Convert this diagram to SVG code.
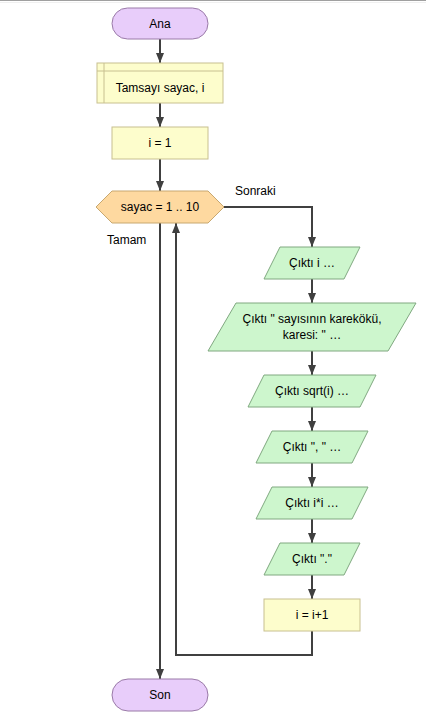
<svg xmlns="http://www.w3.org/2000/svg" width="426" height="724" viewBox="0 0 426 724">
<defs>
<marker id="ah" markerWidth="10" markerHeight="8" refX="10" refY="4" orient="auto" markerUnits="userSpaceOnUse">
<path d="M0,0 L10,4 L0,8 Z" fill="#404040"/>
</marker>
<style>
text{font-family:"Liberation Sans",Arial,sans-serif;font-size:12px;fill:#000;text-anchor:middle;dominant-baseline:central}
.lbl{text-anchor:start}
.term{fill:#e8cdfa;stroke:#9a7aa8;stroke-width:1}
.proc{fill:#fdfdcc;stroke:#c8c090;stroke-width:1}
.loop{fill:#fed9a0;stroke:#c8a870;stroke-width:1}
.io{fill:#cdf6cd;stroke:#80a880;stroke-width:1}
.ln{fill:none;stroke:#404040;stroke-width:2}
</style>
</defs>
<rect x="0" y="0" width="426" height="724" fill="#ffffff"/>
<line x1="0" y1="0.5" x2="426" y2="0.5" stroke="#a0a0a0" stroke-width="1"/>
<line x1="0" y1="2.5" x2="426" y2="2.5" stroke="#f0f0f0" stroke-width="1"/>
<g id="connectors">
<line class="ln" x1="160" y1="39" x2="160" y2="63" marker-end="url(#ah)"/>
<line class="ln" x1="160" y1="103" x2="160" y2="127" marker-end="url(#ah)"/>
<line class="ln" x1="160" y1="159" x2="160" y2="191" marker-end="url(#ah)"/>
<polyline class="ln" points="224,207 312,207 312,247" marker-end="url(#ah)"/>
<line class="ln" x1="312" y1="279" x2="312" y2="303" marker-end="url(#ah)"/>
<line class="ln" x1="312" y1="351" x2="312" y2="375" marker-end="url(#ah)"/>
<line class="ln" x1="312" y1="407" x2="312" y2="431" marker-end="url(#ah)"/>
<line class="ln" x1="312" y1="463" x2="312" y2="487" marker-end="url(#ah)"/>
<line class="ln" x1="312" y1="519" x2="312" y2="543" marker-end="url(#ah)"/>
<line class="ln" x1="312" y1="575" x2="312" y2="599" marker-end="url(#ah)"/>
<polyline class="ln" points="312,631 312,655 176,655 176,223" marker-end="url(#ah)"/>
<line class="ln" x1="160" y1="223" x2="160" y2="679" marker-end="url(#ah)"/>
<text class="lbl" x="235" y="191">Sonraki</text>
<text class="lbl" x="107" y="240">Tamam</text>
</g>
<g id="start">
<rect class="term" x="112" y="8" width="96" height="31" rx="15.5" ry="15.5"/>
<text x="160" y="23.5">Ana</text>
</g>
<g id="declare">
<rect class="proc" x="97" y="63" width="126" height="40"/>
<line x1="104" y1="63" x2="104" y2="103" stroke="#c8c090" stroke-width="1"/>
<line x1="97" y1="71" x2="223" y2="71" stroke="#c8c090" stroke-width="1"/>
<text x="160" y="88">Tamsayı sayac, i</text>
</g>
<g id="assign1">
<rect class="proc" x="112" y="127" width="96" height="32"/>
<text x="160" y="143">i = 1</text>
</g>
<g id="for">
<polygon class="loop" points="96,207 112,191 208,191 224,207 208,223 112,223"/>
<text x="160" y="207">sayac = 1 .. 10</text>
</g>
<g id="out1">
<polygon class="io" points="280,247 360,247 344,279 264,279"/>
<text x="312" y="263">Çıktı i …</text>
</g>
<g id="out2">
<polygon class="io" points="236,303 416,303 388,351 208,351"/>
<text x="312" y="319">Çıktı " sayısının karekökü,</text>
<text x="312" y="335">karesi: " …</text>
</g>
<g id="out3">
<polygon class="io" points="264,375 376,375 360,407 248,407"/>
<text x="312" y="391">Çıktı sqrt(i) …</text>
</g>
<g id="out4">
<polygon class="io" points="272,431 368,431 352,463 256,463"/>
<text x="312" y="447">Çıktı ", " …</text>
</g>
<g id="out5">
<polygon class="io" points="272,487 368,487 352,519 256,519"/>
<text x="312" y="503">Çıktı i*i …</text>
</g>
<g id="out6">
<polygon class="io" points="280,543 360,543 344,575 264,575"/>
<text x="312" y="559">Çıktı "."</text>
</g>
<g id="assign2">
<rect class="proc" x="264" y="599" width="96" height="32"/>
<text x="312" y="615">i = i+1</text>
</g>
<g id="end">
<rect class="term" x="112" y="679" width="96" height="32" rx="16" ry="16"/>
<text x="160" y="695">Son</text>
</g>
</svg>
